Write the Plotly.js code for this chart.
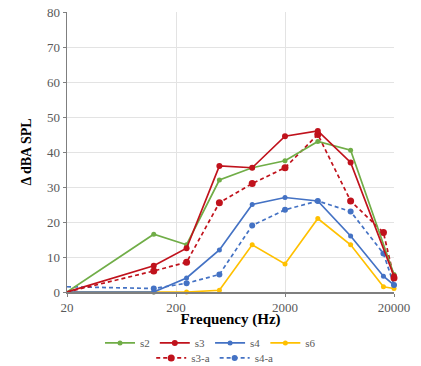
<!DOCTYPE html>
<html><head><meta charset="utf-8">
<script src="https://cdn.plot.ly/plotly-3.0.1.min.js"></script>
<style>html,body{margin:0;padding:0;background:#fff}#c{width:421px;height:366px}</style>
</head><body><div id="c"></div>
<script>
const freqs = [20,125,250,500,1000,2000,4000,8000,16000,20000];
const s2  = [0,16.5,13.5,32,35.5,37.5,43,40.5,null,5];
const s3  = [0,7.5,12.5,36,35.5,44.5,46,37,null,4.5];
const s4  = [0,0,4,12,25,27,26,16,4.5,2];
const s6  = [0,0,0,0.5,13.5,8,21,13.5,1.5,1];
const s3a = [0,6,8.5,25.5,31,35.5,45,26,17,4];
const s4a = [1.5,1,2.5,5,19,23.5,26,23,11,2];
const xTicks = [20,200,2000,20000];
const yTicks = [0,10,20,30,40,50,60,70,80];

const GREEN='#70AD47', RED='#C0121C', BLUE='#4472C4', YEL='#FFC000';
function tr(name,y,color,dash,msize,legend,rank){
  return {x:freqs,y:y,name:name,type:'scatter',mode:'lines+markers',connectgaps:true,cliponaxis:false,
    line:{color:color,width:1.7,dash:dash},marker:{color:color,size:msize},legend:legend,legendrank:rank};
}
const data=[
  tr('s6',s6,YEL,'solid',5,'legend',4),
  tr('s4-a',s4a,BLUE,'4px,3px',6,'legend2',6),
  tr('s4',s4,BLUE,'solid',5,'legend',3),
  tr('s3-a',s3a,RED,'4px,3px',7,'legend2',5),
  tr('s2',s2,GREEN,'solid',5,'legend',1),
  tr('s3',s3,RED,'solid',6,'legend',2),
];
const serif='"Liberation Serif", "Times New Roman", serif';
const font={family:serif,color:'#595959',size:13};
const layout={
  width:421,height:366,margin:{l:67,r:27,t:12,b:74,autoexpand:false},
  paper_bgcolor:'#fff',plot_bgcolor:'#fff',font:font,showlegend:true,
  xaxis:{type:'log',range:[Math.log10(20),Math.log10(20000)],tickvals:xTicks,ticktext:xTicks.map(String),
    tickfont:{family:serif,size:13,color:'#595959'},
    showgrid:true,gridcolor:'#e3e3e3',gridwidth:1,showline:true,linecolor:'#7f7f7f',linewidth:1.5,
    zeroline:false,ticks:'outside',ticklen:3,tickcolor:'#7f7f7f',automargin:true,
    title:{text:'<b>Frequency (Hz)</b>',font:{family:serif,size:15,color:'#000'},standoff:8}},
  yaxis:{range:[0,80],tickvals:yTicks,showgrid:true,gridcolor:'#e3e3e3',gridwidth:1,automargin:true,
    tickfont:{family:serif,size:13,color:'#595959'},
    showline:true,linecolor:'#7f7f7f',linewidth:1.5,zeroline:false,ticks:'outside',ticklen:3,tickcolor:'#7f7f7f',
    title:{text:'<b>Δ dBA SPL</b>',font:{family:serif,size:14,color:'#000'},standoff:12}},
  legend:{orientation:'h',xref:'container',yref:'container',x:0.5,xanchor:'center',y:0.063,yanchor:'middle',
    traceorder:'normal',font:{family:serif,size:11,color:'#595959'},itemwidth:30,bgcolor:'rgba(0,0,0,0)'},
  legend2:{orientation:'h',xref:'container',yref:'container',x:0.51,xanchor:'center',y:0.022,yanchor:'middle',
    traceorder:'normal',font:{family:serif,size:11,color:'#595959'},itemwidth:30,bgcolor:'rgba(0,0,0,0)'}
};
Plotly.newPlot('c',data,layout,{displayModeBar:false,staticPlot:true});
</script></body></html>
